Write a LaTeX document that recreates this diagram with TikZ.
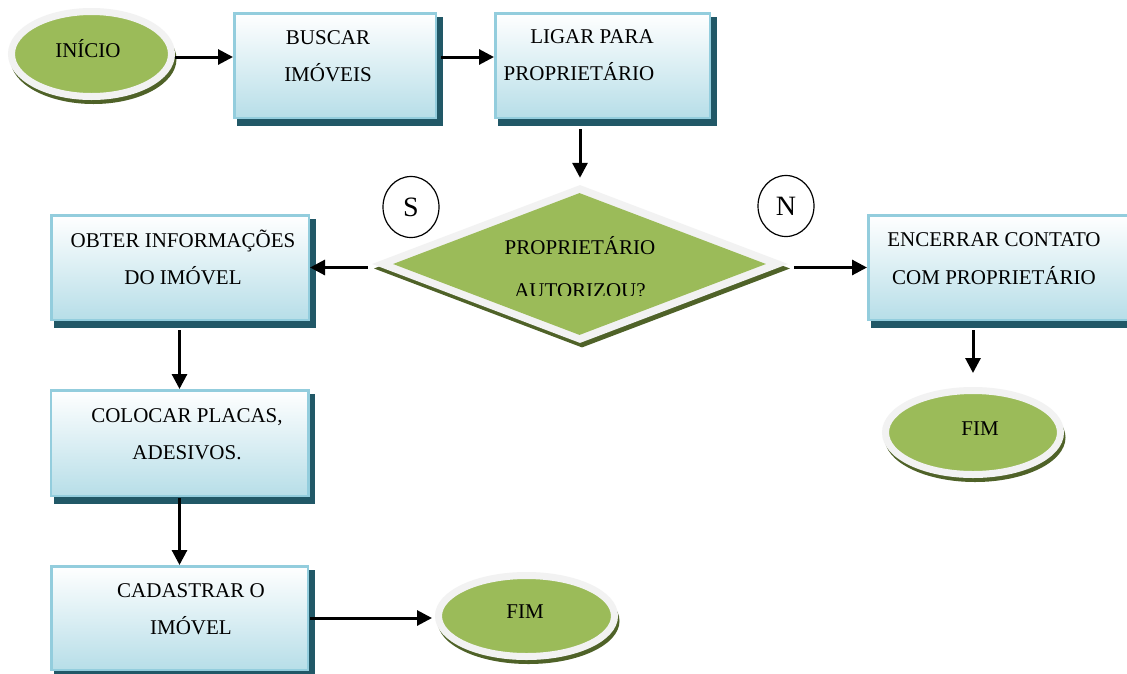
\documentclass[tikz,border=0pt]{standalone}
\usepackage{fontspec}
\setmainfont{Liberation Serif}
\usetikzlibrary{shapes.geometric,arrows.meta,backgrounds}
\definecolor{bborder}{HTML}{93CDDD}
\definecolor{bfill}{HTML}{B7DEE8}
\definecolor{bshadow}{HTML}{215867}
\definecolor{ngreen}{HTML}{9BBB59}
\definecolor{ringc}{HTML}{F2F2F2}
\definecolor{gshadow}{HTML}{4F6228}
\begin{document}
\begin{tikzpicture}[x=1pt,y=-1pt,
  proc/.style={rectangle, draw=bborder, line width=2.5pt, top color=white, bottom color=bfill, inner sep=0pt},
  term/.style={ellipse, draw=ringc, line width=7pt, fill=ngreen, inner sep=0pt},
  termsh/.style={ellipse, fill=gshadow, inner sep=0pt},
  txt/.style={font=\fontsize{21}{25}\selectfont, inner sep=0pt, anchor=base},
  big/.style={font=\fontsize{28}{30}\selectfont, inner sep=0pt, anchor=base},
  conn/.style={ellipse, draw=black, line width=1.2pt, fill=white, inner sep=0pt, minimum width=56pt, minimum height=61pt},
  arr/.style={line width=3pt, -{Triangle[length=15pt,width=15pt]}}
]
\clip (0,0) rectangle (1127,673);

% terminators (shadows first)
\node[termsh, minimum width=166pt, minimum height=90pt] (startsh) at (93.5,59) {};
\node[term, minimum width=160pt, minimum height=85pt] (start) at (91.5,54) {};
\node[termsh, minimum width=181pt, minimum height=89pt] (fim1sh) at (975,437.5) {};
\node[term, minimum width=175pt, minimum height=84pt] (fim1) at (973,432.5) {};
\node[termsh, minimum width=182pt, minimum height=86pt] (fim2sh) at (528.5,621) {};
\node[term, minimum width=176pt, minimum height=81pt] (fim2) at (526.5,616) {};

% decision
\node[diamond, fill=gshadow, minimum width=416pt, minimum height=158pt, inner sep=0pt] (decsh) at (582,268.5) {};
\node[diamond, fill=ringc, minimum width=416pt, minimum height=158pt, inner sep=0pt] (dec) at (580,264) {};
\node[diamond, fill=ngreen, minimum width=373pt, minimum height=142pt, inner sep=0pt] (decin) at (579.5,264) {};

% process boxes
\node[proc, minimum width=201.5pt, minimum height=104.5pt] (b1) at (335,65.5) {};
\node[proc, minimum width=214.5pt, minimum height=104.5pt] (b2) at (602.5,65.5) {};
\node[proc, minimum width=257.5pt, minimum height=104.5pt] (b3) at (180,267.5) {};
\node[proc, minimum width=265.5pt, minimum height=104.5pt] (b4) at (1001,267.5) {};
\node[proc, minimum width=257.5pt, minimum height=105.5pt] (b5) at (179.5,443) {};
\node[proc, minimum width=256.5pt, minimum height=103.5pt] (b6) at (179.5,618) {};

\begin{scope}[on background layer]
  \fill[white] (0,0) rectangle (1127,673);
  \foreach \b in {b1,b2,b3,b4,b5,b6}{
    \fill[bshadow] ([shift={(4,5)}]\b.north west) rectangle ([shift={(5.5,6.5)}]\b.south east);
  }
\end{scope}

% connectors S / N
\node[conn] (cs) at (411,207) {};
\node[conn] (cn) at (786,206) {};

% texts
\node[txt] (tstart) at (88,57) {INÍCIO};
\node[txt] (t1a) at (328,44) {BUSCAR};
\node[txt] (t1b) at (328,81) {IMÓVEIS};
\node[txt] (t2a) at (592,43) {LIGAR PARA};
\node[txt] (t2b) at (579,80) {PROPRIETÁRIO};
\node[txt] (tda) at (580,254) {PROPRIETÁRIO};
\begin{scope}
  \clip (440,270) rectangle (720,295);
  \node[txt] (tdb) at (580,297.5) {AUTORIZOU?};
\end{scope}
\node[big] (ts) at (411,216) {S};
\node[big] (tn) at (786,215.5) {N};
\node[txt] (t3a) at (183,247) {OBTER INFORMAÇÕES};
\node[txt] (t3b) at (183,284) {DO IMÓVEL};
\node[txt] (t4a) at (994,246) {ENCERRAR CONTATO};
\node[txt] (t4b) at (994,284) {COM PROPRIETÁRIO};
\node[txt] (tfim1) at (980,435) {FIM};
\node[txt] (t5a) at (187,422) {COLOCAR PLACAS,};
\node[txt] (t5b) at (187,459) {ADESIVOS.};
\node[txt] (t6a) at (191,597) {CADASTRAR O};
\node[txt] (t6b) at (191,634) {IMÓVEL};
\node[txt] (tfim2) at (525,618) {FIM};

% arrow anchor points
\coordinate (a1s) at ([yshift=-3pt]start.east);
\coordinate (a2s) at ([yshift=8.5pt]b1.east);
\coordinate (a2e) at ([yshift=8.5pt]b2.west);

% arrows
\draw[arr] (a1s) -- (b1.west |- a1s);
\draw[arr, shorten <=4pt] (a2s) -- (a2e);
\draw[arr, shorten <=10pt, shorten >=7pt] (b2.south -| dec.north) -- (dec.north);
\draw[arr, shorten <=4pt] (dec.west |- b3.east) -- (b3.east);
\draw[arr, shorten <=6pt] (dec.east |- b4.west) -- (b4.west);
\draw[arr, shorten <=9pt, shorten >=14pt] (fim1.north |- b4.south) -- (fim1.north);
\draw[arr, shorten <=9pt] (b5.north |- b3.south) -- (b5.north);
\draw[arr, shorten <=1pt] (b5.south) -- (b6.north);
\draw[arr, shorten <=1pt, shorten >=3pt] (b6.east) -- (fim2.west |- b6.east);
\end{tikzpicture}
\end{document}
